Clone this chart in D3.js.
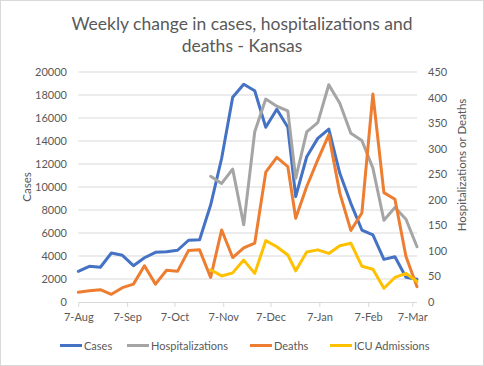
<!DOCTYPE html>
<html>
<head>
<meta charset="utf-8">
<script src="https://cdn.jsdelivr.net/npm/d3@7"></script>
<style>
  html, body { margin: 0; padding: 0; background: #fff; }
  svg { display: block; }
  text { font-family: Lato, "Open Sans", sans-serif; fill: #595959; }
</style>
</head>
<body>
<svg id="chart" width="484" height="366"></svg>
<script>
// ---- data ----
const dates = ["2020-08-07","2020-08-14","2020-08-21","2020-08-28","2020-09-04","2020-09-11","2020-09-18","2020-09-25",
  "2020-10-02","2020-10-09","2020-10-16","2020-10-23","2020-10-30","2020-11-06","2020-11-13","2020-11-20","2020-11-27",
  "2020-12-04","2020-12-11","2020-12-18","2020-12-23","2020-12-30","2021-01-06","2021-01-13","2021-01-20","2021-01-27",
  "2021-02-03","2021-02-10","2021-02-17","2021-02-24","2021-03-03","2021-03-10"];
const cases = [2670,3100,3020,4260,4060,3160,3850,4320,4370,4500,5370,5420,8430,12500,17800,18930,18370,
  15190,16760,15190,9160,12630,14230,15040,11190,8580,6260,5830,3710,3940,2150,1970];
const hospitalizations = [null,null,null,null,null,null,null,null,null,null,null,null,246,232,260,151,333,
  397,383,374,242,333,351,425,389,330,316,262,160,185,162,108];
const deaths = [19,22,24,15,28,35,71,35,62,60,101,102,48,141,87,106,115,
  254,283,265,164,226,278,327,213,140,174,407,214,201,89,30];
const icu = [null,null,null,null,null,null,null,null,null,null,null,null,63,51,57,82,56,
  120,108,92,61,98,102,95,110,115,70,64,27,48,56,40];
const leftTicks = [0,2000,4000,6000,8000,10000,12000,14000,16000,18000,20000];
const rightTicks = [0,50,100,150,200,250,300,350,400,450];
const xTickDates = ["2020-08-07","2020-09-07","2020-10-07","2020-11-07","2020-12-07","2021-01-07","2021-02-07","2021-03-07"];
const titleLines = ["Weekly change in cases, hospitalizations and", "deaths - Kansas"];
const seriesNames = ["Cases","Hospitalizations","Deaths","ICU Admissions"];
const seriesColors = ["#4472C4","#A5A5A5","#ED7D31","#FFC000"];

// ---- layout ----
const svg = d3.select("#chart");
const W = 484, H = 366;
const parse = d3.timeParse("%Y-%m-%d");
const x = d3.scaleTime().domain([parse("2020-08-07"), parse("2021-03-10")]).range([78.3, 417]);
const yL = d3.scaleLinear().domain([0, 20000]).range([302, 72]);
const yR = d3.scaleLinear().domain([0, 450]).range([302, 72]);

svg.append("rect").attr("x",0.5).attr("y",0.5).attr("width",W-1).attr("height",H-1)
  .attr("fill","#fff").attr("stroke","#d9d9d9");

// title
svg.append("g").selectAll("text").data(titleLines).join("text")
  .attr("x", 242).attr("y", (d,i) => 30 + i*22)
  .attr("text-anchor","middle").attr("font-size", 17.5).text(d => d);

// gridlines
svg.append("g").selectAll("line").data(leftTicks.slice(1)).join("line")
  .attr("x1", 78.3).attr("x2", 417).attr("y1", d => yL(d)).attr("y2", d => yL(d))
  .attr("stroke","#d9d9d9").attr("stroke-width",1);

// left axis
const gL = svg.append("g").attr("transform","translate(78,0)")
  .call(d3.axisLeft(yL).tickValues(leftTicks).tickSize(0).tickPadding(11).tickFormat(d3.format("d")));
gL.select(".domain").remove();
gL.selectAll("text").attr("font-size", 11).attr("fill","#595959").style("font-family","Lato");

// right axis
const gR = svg.append("g").attr("transform","translate(417,0)")
  .call(d3.axisRight(yR).tickValues(rightTicks).tickSize(0).tickPadding(11));
gR.select(".domain").remove();
gR.selectAll("text").attr("font-size", 11).attr("fill","#595959").style("font-family","Lato");

// x axis
const gX = svg.append("g").attr("transform","translate(0,302)")
  .call(d3.axisBottom(x).tickValues(xTickDates.map(parse)).tickSize(5).tickPadding(6).tickFormat(d3.timeFormat("%-d-%b")));
gX.select(".domain").attr("stroke","#d9d9d9").attr("d","M78.3,0.5H417");
gX.selectAll(".tick line").attr("stroke","#d9d9d9");
gX.selectAll("text").attr("font-size", 11).attr("fill","#595959").style("font-family","Lato");

// axis titles
svg.append("text").attr("transform","translate(31,187) rotate(-90)")
  .attr("text-anchor","middle").attr("font-size", 11.5).text("Cases");
svg.append("text").attr("transform","translate(466,165) rotate(-90)")
  .attr("text-anchor","middle").attr("font-size", 11.5).text("Hospitalizations or Deaths");

// lines
const series = [
  {vals: cases, y: yL},
  {vals: hospitalizations, y: yR},
  {vals: deaths, y: yR},
  {vals: icu, y: yR}
];
const order = [0,1,2,3];
order.forEach(i => {
  const s = series[i];
  const pts = dates.map((d,j) => ({d: parse(d), v: s.vals[j]}));
  const line = d3.line().defined(p => p.v != null).x(p => x(p.d)).y(p => s.y(p.v));
  svg.append("path").datum(pts).attr("d", line).attr("fill","none")
    .attr("stroke", seriesColors[i]).attr("stroke-width", 3).attr("stroke-linejoin","round").attr("stroke-linecap","round");
});

// legend
const legendX = [60, 127, 250, 330];
const lg = svg.append("g");
seriesNames.forEach((n,i) => {
  lg.append("line").attr("x1", legendX[i]).attr("x2", legendX[i]+22).attr("y1", 345.5).attr("y2", 345.5)
    .attr("stroke", seriesColors[i]).attr("stroke-width", 3);
  lg.append("text").attr("x", legendX[i]+24).attr("y", 349.5).attr("font-size", 11).text(n);
});
</script>
</body>
</html>
